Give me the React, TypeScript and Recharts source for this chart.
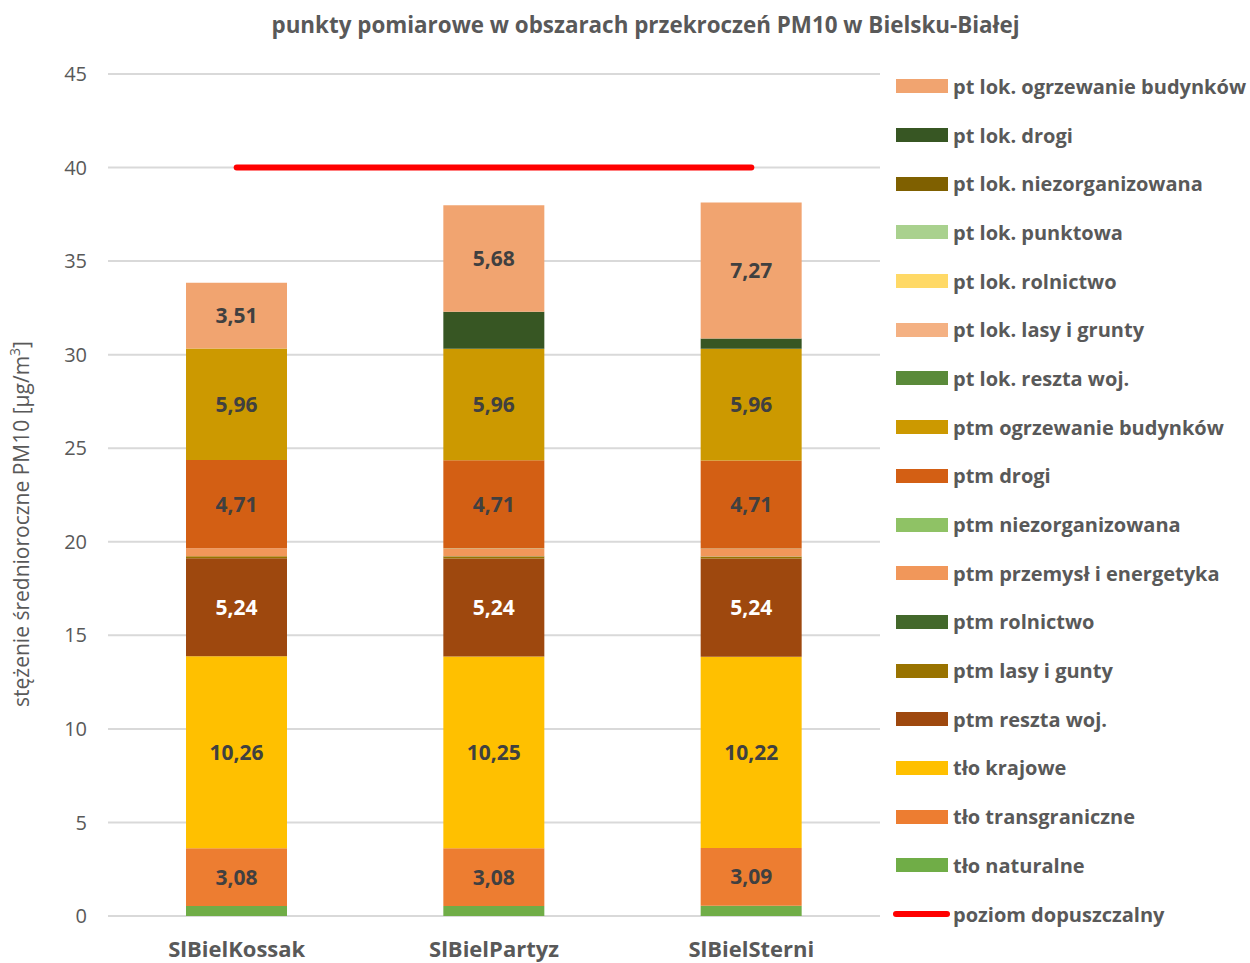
import React from 'react';
import { ComposedChart, Bar, Line, XAxis, YAxis, CartesianGrid, LabelList } from 'recharts';

const categories = ['SlBielKossak', 'SlBielPartyz', 'SlBielSterni'];
const yTicks = [0, 5, 10, 15, 20, 25, 30, 35, 40, 45];

const tloNaturalne = [0.54, 0.54, 0.55];
const tloTransgraniczne = [3.08, 3.08, 3.09];
const tloKrajowe = [10.26, 10.25, 10.22];
const ptmResztaWoj = [5.24, 5.24, 5.24];
const ptmLasyGunty = [0.1, 0.1, 0.1];
const ptmRolnictwo = [0.01, 0.01, 0.01];
const ptmPrzemysl = [0.42, 0.42, 0.42];
const ptmNiezorg = [0.01, 0.01, 0.01];
const ptmDrogi = [4.71, 4.71, 4.71];
const ptmOgrzewanie = [5.96, 5.96, 5.96];
const ptLokResztaWoj = [0, 0, 0];
const ptLokLasy = [0, 0, 0];
const ptLokRolnictwo = [0, 0, 0];
const ptLokPunktowa = [0, 0, 0];
const ptLokNiezorg = [0, 0, 0];
const ptLokDrogi = [0, 1.98, 0.55];
const ptLokOgrzewanie = [3.51, 5.68, 7.27];
const poziomDopuszczalny = [40, 40, 40];

// stacking order bottom -> top
const seriesDefs = [
  { key: 'tn', name: 'tło naturalne', values: tloNaturalne, color: '#70AD47', label: null },
  { key: 'tt', name: 'tło transgraniczne', values: tloTransgraniczne, color: '#ED7D31', label: '#404040' },
  { key: 'tk', name: 'tło krajowe', values: tloKrajowe, color: '#FFC000', label: '#404040' },
  { key: 'mr', name: 'ptm reszta woj.', values: ptmResztaWoj, color: '#9E480E', label: '#FFFFFF' },
  { key: 'ml', name: 'ptm lasy i gunty', values: ptmLasyGunty, color: '#997300', label: null },
  { key: 'mro', name: 'ptm rolnictwo', values: ptmRolnictwo, color: '#43682B', label: null },
  { key: 'mp', name: 'ptm przemysł i energetyka', values: ptmPrzemysl, color: '#F1975A', label: null },
  { key: 'mn', name: 'ptm niezorganizowana', values: ptmNiezorg, color: '#8FC265', label: null },
  { key: 'md', name: 'ptm drogi', values: ptmDrogi, color: '#D35F14', label: '#404040' },
  { key: 'mo', name: 'ptm ogrzewanie budynków', values: ptmOgrzewanie, color: '#CC9900', label: '#404040' },
  { key: 'lr', name: 'pt lok. reszta woj.', values: ptLokResztaWoj, color: '#5A8A3A', label: null },
  { key: 'll', name: 'pt lok. lasy i grunty', values: ptLokLasy, color: '#F4B183', label: null },
  { key: 'lro', name: 'pt lok. rolnictwo', values: ptLokRolnictwo, color: '#FFD966', label: null },
  { key: 'lp', name: 'pt lok. punktowa', values: ptLokPunktowa, color: '#A9D18E', label: null },
  { key: 'ln', name: 'pt lok. niezorganizowana', values: ptLokNiezorg, color: '#7F6000', label: null },
  { key: 'ld', name: 'pt lok. drogi', values: ptLokDrogi, color: '#375623', label: null },
  { key: 'lo', name: 'pt lok. ogrzewanie budynków', values: ptLokOgrzewanie, color: '#F1A470', label: '#404040' },
];

const data = categories.map((c, i) => {
  const row: Record<string, any> = { cat: c, limit: poziomDopuszczalny[i] };
  seriesDefs.forEach((s) => {
    row[s.key] = s.values[i];
  });
  return row;
});

const FONT = '"Open Sans", "DejaVu Sans", sans-serif';
const TXT = '#595959';

const fmt = (v: any) => (typeof v === 'number' ? v.toFixed(2).replace('.', ',') : v);

const YTitle = () => (
  <text
    x={0}
    y={0}
    transform="translate(29,524) rotate(-90)"
    textAnchor="middle"
    fill={TXT}
    fontSize={21}
    fontFamily={FONT}
  >
    <tspan>stężenie średnioroczne PM10 [µg/m</tspan>
    <tspan fontSize={14} dy={-9}>3</tspan>
    <tspan dy={9}>]</tspan>
  </text>
);

export default function App() {
  const legendItems = [...seriesDefs].reverse();
  return (
    <div style={{ position: 'absolute', left: 0, top: 0, width: 1250, height: 963, background: '#fff', fontFamily: FONT }}>
      <div
        style={{
          position: 'absolute',
          left: 0,
          width: 1291,
          top: 9,
          textAlign: 'center',
          fontSize: 22.4,
          fontWeight: 700,
          color: TXT,
        }}
      >
        punkty pomiarowe w obszarach przekroczeń PM10 w Bielsku-Białej
      </div>
      <ComposedChart
        width={1250}
        height={963}
        data={data}
        margin={{ top: 74, right: 370, bottom: 0, left: 0 }}
        barSize={101}
      >
        <CartesianGrid vertical={false} stroke="#D9D9D9" strokeWidth={2} />
        <XAxis
          dataKey="cat"
          height={47}
          axisLine={false}
          tickLine={false}
          tickMargin={19}
          tick={{ fill: TXT, fontSize: 22, fontWeight: 700, fontFamily: FONT }}
        />
        <YAxis
          width={108}
          domain={[0, 45]}
          ticks={yTicks}
          interval={0}
          axisLine={false}
          tickLine={false}
          tickMargin={15}
          tick={{ fill: TXT, fontSize: 20, fontFamily: FONT }}
          label={<YTitle />}
        />
        {seriesDefs.map((s) => (
          <Bar key={s.key} dataKey={s.key} name={s.name} stackId="a" fill={s.color} isAnimationActive={false}>
            {s.label ? (
              <LabelList
                dataKey={s.key}
                position="center"
                formatter={fmt}
                fill={s.label}
                fontSize={21}
                fontWeight={700}
                fontFamily={FONT}
              />
            ) : null}
          </Bar>
        ))}
        <Line
          dataKey="limit"
          name="poziom dopuszczalny"
          stroke="#FF0000"
          strokeWidth={6}
          strokeLinecap="round"
          dot={false}
          activeDot={false}
          isAnimationActive={false}
        />
      </ComposedChart>
      <div style={{ position: 'absolute', left: 893, top: 62 }}>
        {legendItems.map((s) => (
          <div key={s.key} style={{ display: 'flex', alignItems: 'center', height: 48.7 }}>
            <div style={{ width: 52, height: 14, background: s.color, marginLeft: 3, marginRight: 5 }} />
            <span style={{ fontSize: 20, fontWeight: 700, color: TXT, whiteSpace: 'nowrap' }}>{s.name}</span>
          </div>
        ))}
        <div style={{ display: 'flex', alignItems: 'center', height: 48.7 }}>
          <div style={{ width: 57, height: 6, borderRadius: 3, background: '#FF0000', marginRight: 3 }} />
          <span style={{ fontSize: 20, fontWeight: 700, color: TXT, whiteSpace: 'nowrap' }}>poziom dopuszczalny</span>
        </div>
      </div>
    </div>
  );
}
